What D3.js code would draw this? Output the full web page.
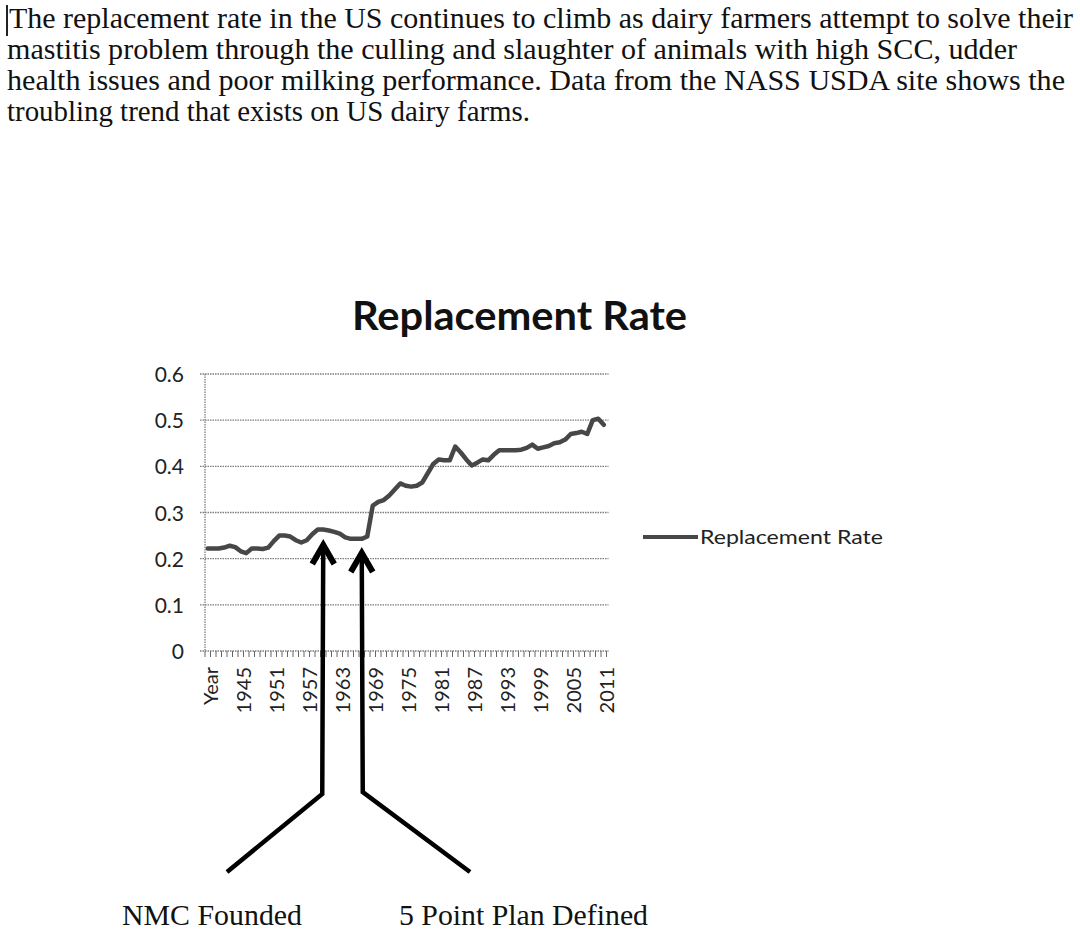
<!DOCTYPE html>
<html>
<head>
<meta charset="utf-8">
<script src="https://cdn.jsdelivr.net/npm/d3@7"></script>
<style>
  html, body { margin: 0; padding: 0; background: #fff; }
  svg { display: block; }
</style>
</head>
<body>
<div id="chart"></div>
<script>
// paragraph above the chart, one entry per printed line
const introLines = [
    "The replacement rate in the US continues to climb as dairy farmers attempt to solve their",
    "mastitis problem through the culling and slaughter of animals with high SCC, udder",
    "health issues and poor milking performance. Data from the NASS USDA site shows the",
    "troubling trend that exists on US dairy farms."
];

// categories: the header cell "Year" ended up as the first category
const years = d3.range(1940, 2012);
const categories = ["Year"].concat(years.map(String));

// replacement rate
const replacementRate = [
    0.222, 0.222, 0.222, 0.224, 0.228, 0.225, 0.216, 0.212, 0.222, 0.222,
    0.221, 0.224, 0.238, 0.250, 0.250, 0.248, 0.240, 0.235, 0.240, 0.253,
    0.263, 0.263, 0.261, 0.258, 0.254, 0.246, 0.243, 0.243, 0.243, 0.248,
    0.315, 0.323, 0.327, 0.337, 0.350, 0.363, 0.358, 0.356, 0.358, 0.365,
    0.385, 0.405, 0.415, 0.413, 0.413, 0.443, 0.430, 0.415, 0.402, 0.408,
    0.415, 0.413, 0.425, 0.435, 0.435, 0.435, 0.435, 0.436, 0.440, 0.447,
    0.438, 0.441, 0.444, 0.450, 0.452, 0.458, 0.470, 0.472, 0.475, 0.470,
    0.500, 0.503, 0.490
];

const yTicks = [0, 0.1, 0.2, 0.3, 0.4, 0.5, 0.6];
const xLabelEvery = 6;

// hand drawn arrows below the plot
const notes = [
    {category: "1960", label: "NMC Founded", side: -1},
    {category: "1967", label: "5 Point Plan Defined", side: 1}
];

const width = 1080, height = 936;
const svg = d3.select('#chart').append('svg')
    .attr('width', width)
    .attr('height', height);

const serif = '"Liberation Serif", Tinos, "Times New Roman", serif';
const sans = 'Lato, "Open Sans", sans-serif';

// ---- intro text ----
const introRight = [1073, 1017, 1065, 530];
svg.append('line')
    .attr('x1', 7).attr('x2', 7).attr('y1', 5).attr('y2', 36)
    .attr('stroke', '#222').attr('stroke-width', 2);
svg.selectAll('.intro')
    .data(introLines)
    .enter().append('text')
    .attr('class', 'intro')
    .attr('x', (d, i) => i === 0 ? 9 : 7)
    .attr('y', (d, i) => 28 + i * 31)
    .attr('textLength', (d, i) => introRight[i] - (i === 0 ? 9 : 7))
    .attr('lengthAdjust', 'spacingAndGlyphs')
    .style('font-family', serif)
    .style('font-size', '30px')
    .attr('fill', '#111')
    .text(d => d);

// ---- chart ----
const plot = {left: 205, right: 606.5, top: 374, bottom: 651};

const x = d3.scaleBand()
    .domain(categories)
    .range([plot.left, plot.right])
    .padding(0);
const y = d3.scaleLinear()
    .domain([0, 0.6])
    .range([plot.bottom, plot.top]);
const cx = c => x(c) + x.bandwidth() / 2;

svg.append('text')
    .attr('x', 352)
    .attr('y', 330)
    .attr('textLength', 335)
    .attr('lengthAdjust', 'spacingAndGlyphs')
    .style('font-family', sans)
    .style('font-weight', 'bold')
    .style('font-size', '40px')
    .attr('fill', '#111')
    .text('Replacement Rate');

// gridlines + y labels
const grid = svg.append('g');
grid.selectAll('line')
    .data(yTicks)
    .enter().append('line')
    .attr('x1', plot.left - 5)
    .attr('x2', plot.right + 2)
    .attr('y1', d => y(d))
    .attr('y2', d => y(d))
    .attr('stroke', '#7d7d7d')
    .attr('stroke-width', 1.3)
    .attr('stroke-dasharray', '1.5,1');
grid.selectAll('text')
    .data(yTicks)
    .enter().append('text')
    .attr('x', 184)
    .attr('y', d => y(d) + 8)
    .attr('text-anchor', 'end')
    .style('font-family', sans)
    .style('font-size', '21px')
    .attr('fill', '#222')
    .text(d => d === 0 ? '0' : d.toFixed(1));

// value axis line
svg.append('line')
    .attr('x1', plot.left).attr('x2', plot.left)
    .attr('y1', plot.top).attr('y2', plot.bottom)
    .attr('stroke', '#7d7d7d')
    .attr('stroke-width', 1.3)
    .attr('stroke-dasharray', '1.5,1');

// category axis: ticks between categories
const xAxis = svg.append('g');
xAxis.selectAll('line.tick')
    .data(categories.concat([null]))
    .enter().append('line')
    .attr('class', 'tick')
    .attr('x1', d => d === null ? plot.right : x(d))
    .attr('x2', d => d === null ? plot.right : x(d))
    .attr('y1', plot.bottom)
    .attr('y2', plot.bottom + 6)
    .attr('stroke', '#666')
    .attr('stroke-width', 1);
xAxis.selectAll('text')
    .data(categories.filter((c, i) => i % xLabelEvery === 0))
    .enter().append('text')
    .attr('transform', d => `translate(${cx(d) + 10},${plot.bottom + 16}) rotate(-90)`)
    .attr('text-anchor', 'end')
    .style('font-family', sans)
    .style('font-size', '20px')
    .attr('fill', '#222')
    .text(d => d);

// the series
const line = d3.line()
    .x((d, i) => cx(categories[i]))
    .y(d => y(d));
svg.append('path')
    .datum(replacementRate)
    .attr('d', line)
    .attr('fill', 'none')
    .attr('stroke', '#474747')
    .attr('stroke-width', 4.5)
    .attr('stroke-linejoin', 'round')
    .attr('stroke-linecap', 'round');

// legend
svg.append('line')
    .attr('x1', 643).attr('x2', 698)
    .attr('y1', 537).attr('y2', 537)
    .attr('stroke', '#474747')
    .attr('stroke-width', 4);
svg.append('text')
    .attr('x', 700)
    .attr('y', 544)
    .attr('textLength', 183)
    .attr('lengthAdjust', 'spacingAndGlyphs')
    .style('font-family', sans)
    .style('font-size', '20px')
    .attr('fill', '#222')
    .text('Replacement Rate');

// ---- arrows and notes ----
const arrows = svg.append('g')
    .attr('fill', 'none')
    .attr('stroke', '#000')
    .attr('stroke-linejoin', 'miter');
notes.forEach(n => {
    const ax = cx(n.category);
    const tipY = n.side < 0 ? 545 : 553;
    const bendY = n.side < 0 ? 794 : 792;
    const endX = n.side < 0 ? 227 : 470;
    arrows.append('path')
        .attr('stroke-width', 4.5)
        .attr('d', `M${ax},${tipY} L${ax + n.side},${bendY} L${endX},872`);
    arrows.append('path')
        .attr('stroke-width', 6)
        .attr('d', `M${ax - 11},${tipY + 19} L${ax},${tipY} L${ax + 11},${tipY + 19}`);
});
svg.selectAll('.note')
    .data(notes)
    .enter().append('text')
    .attr('class', 'note')
    .attr('x', d => d.side < 0 ? 122 : 399)
    .attr('y', 925)
    .attr('textLength', d => d.side < 0 ? 180 : 249)
    .attr('lengthAdjust', 'spacingAndGlyphs')
    .style('font-family', serif)
    .style('font-size', '29px')
    .attr('fill', '#111')
    .text(d => d.label);
</script>
</body>
</html>
